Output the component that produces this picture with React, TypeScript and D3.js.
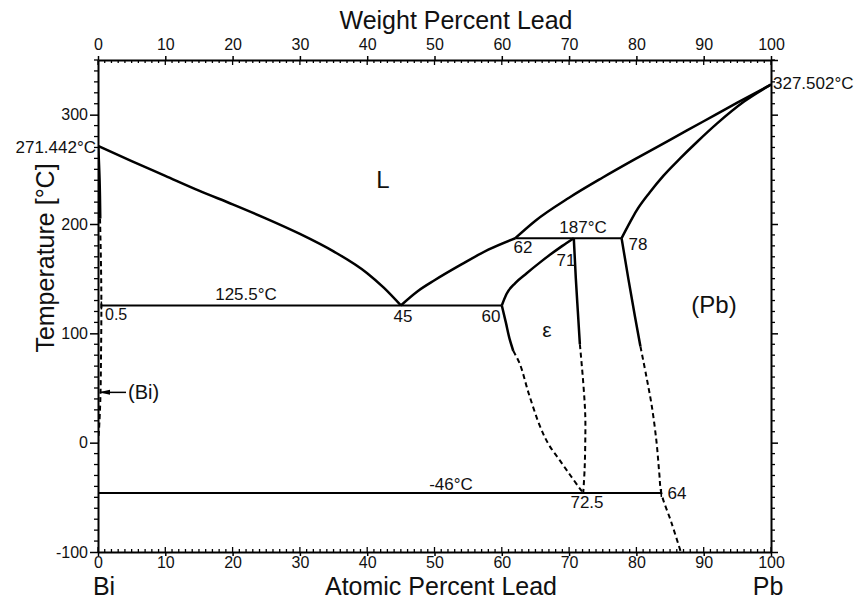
import React, { useRef, useEffect } from "react";
import * as d3 from "d3";

type Pt = [number, number];

// phase boundaries, [atomic % Pb, temperature °C]
const liquidusBi: Pt[] = [[0, 271.442], [5, 257.5], [10, 244], [15, 230.5], [20, 218], [25, 205], [30, 191], [35, 175], [40, 155], [42.5, 141.5], [45, 125.5]];
const liquidusEps: Pt[] = [[45, 125.5], [47.5, 138.5], [50, 148.5], [54, 163], [58, 176.5], [62, 187]];
const liquidusPb: Pt[] = [[62, 187], [65, 203], [70, 224], [75, 242.5], [80, 260], [85, 277], [90, 294], [95, 311], [100, 327.502]];
const solidusPb: Pt[] = [[77.8, 187], [79, 201], [80, 212], [82, 229], [84, 244], [86.5, 260], [89, 275], [92, 292], [96, 312], [100, 327.502]];
const epsLiquidus: Pt[] = [[60, 125.5], [60.7, 136], [62, 146], [63.7, 155], [65.5, 164], [67.2, 172], [69, 180], [70.7, 187]];
const epsLeftSolid: Pt[] = [[60, 125.5], [60.6, 110], [61.2, 94], [61.7, 84]];
const epsLeftDashed: Pt[] = [[61.7, 84], [62.7, 71.7], [64, 45], [65.7, 14.6], [67, -2], [68.6, -16], [70.2, -30], [71.6, -42], [72.1, -46]];
const epsRightSolid: Pt[] = [[70.7, 187], [71, 150], [71.3, 120], [71.6, 90]];
const epsRightDashed: Pt[] = [[71.6, 90], [72.1, 55], [72.4, 25], [72.4, 0], [72.3, -25], [72.1, -46]];
const pbSolvusSolid: Pt[] = [[77.8, 187], [78.8, 150], [79.8, 115], [80.6, 88]];
const pbSolvusDashed: Pt[] = [[80.6, 88], [81.5, 60], [82.3, 33], [83, 0], [83.4, -28], [83.7, -46], [85.2, -73], [86.6, -100]];
const biSolidus: Pt[] = [[0, 271.442], [0.2, 240], [0.3, 205]];
const biDashed: Pt[] = [[0.3, 205], [0.45, 160], [0.5, 125.5], [0.45, 80], [0.35, 40], [0.15, 12], [0, 0]];

// invariant lines: [from %, to %, temperature]
const isotherms: [number, number, number][] = [[0.5, 60, 125.5], [62, 77.8, 187], [0, 83.7, -46]];

const majorX = d3.range(0, 101, 10);
const majorY = [-100, 0, 100, 200, 300];

// labels: [text, x px, baseline px, size, anchor]
const labels: [string, number, number, number, string][] = [
  ["L", 383, 188, 24, "middle"],
  ["125.5°C", 246, 300, 17, "middle"],
  ["0.5", 105, 320, 16, "start"],
  ["45", 403, 322, 17, "middle"],
  ["60", 491, 322, 17, "middle"],
  ["ε", 547, 337, 21, "middle"],
  ["62", 523, 253, 17, "middle"],
  ["187°C", 583, 233, 17, "middle"],
  ["71", 566, 266, 17, "middle"],
  ["78", 638, 250, 17, "middle"],
  ["(Pb)", 714, 313, 24, "middle"],
  ["(Bi)", 128, 399, 20, "start"],
  ["-46°C", 451, 490, 17, "middle"],
  ["72.5", 587, 508, 17, "middle"],
  ["64", 677, 499, 17, "middle"],
  ["271.442°C", 96, 153, 17, "end"],
  ["327.502°C", 773, 89, 17, "start"],
];

const W = 860;
const H = 601;

const App: React.FC = () => {
  const svgRef = useRef<SVGSVGElement | null>(null);

  useEffect(() => {
    if (!svgRef.current) return;
    const svg = d3.select(svgRef.current);
    svg.selectAll("*").remove();

    const x = d3.scaleLinear().domain([0, 100]).range([98, 771]);
    const y = d3.scaleLinear().domain([-100, 350]).range([552, 60]);
    const line = d3.line<Pt>().x(d => x(d[0])).y(d => y(d[1])).curve(d3.curveMonotoneY);
    const smoothX = d3.line<Pt>().x(d => x(d[0])).y(d => y(d[1])).curve(d3.curveMonotoneX);
    const smooth = d3.line<Pt>().x(d => x(d[0])).y(d => y(d[1])).curve(d3.curveCatmullRom);

    svg.append("defs").append("clipPath").attr("id", "plot")
      .append("rect").attr("x", x(0)).attr("y", y(350)).attr("width", x(100) - x(0)).attr("height", y(-100) - y(350));

    const g = svg.append("g").attr("clip-path", "url(#plot)").attr("fill", "none").attr("stroke", "#000");

    // solid boundaries
    [liquidusBi, liquidusEps, liquidusPb, solidusPb, epsLiquidus].forEach(p => {
      g.append("path").attr("d", smoothX(p)).attr("stroke-width", 2.5);
    });
    [epsLeftSolid, epsRightSolid, pbSolvusSolid].forEach(p => {
      g.append("path").attr("d", line(p)).attr("stroke-width", 2.5);
    });
    g.append("path").attr("d", line(biSolidus)).attr("stroke-width", 3);

    // dashed (uncertain) boundaries
    [epsLeftDashed, epsRightDashed, pbSolvusDashed, biDashed].forEach(p => {
      g.append("path").attr("d", smooth(p)).attr("stroke-width", 2).attr("stroke-dasharray", "5,3.5");
    });

    // isotherms
    g.selectAll("line.iso").data(isotherms).join("line")
      .attr("x1", d => x(d[0])).attr("x2", d => x(d[1]))
      .attr("y1", d => y(d[2])).attr("y2", d => y(d[2]))
      .attr("stroke-width", 2);
    // end ticks on the 125.5 and -46 lines
    g.append("line").attr("x1", x(83.7)).attr("x2", x(83.7)).attr("y1", y(-46) - 4).attr("y2", y(-46) + 4).attr("stroke-width", 1.5);
    g.append("line").attr("x1", x(0.5)).attr("x2", x(0.5)).attr("y1", y(125.5) - 4).attr("y2", y(125.5) + 4).attr("stroke-width", 1.5);

    // (Bi) pointer
    const ay = y(46);
    svg.append("line").attr("x1", x(0) + 2).attr("x2", x(0) + 28).attr("y1", ay).attr("y2", ay)
      .attr("stroke", "#000").attr("stroke-width", 1.5);
    svg.append("path")
      .attr("d", `M${x(0) + 1},${ay} L${x(0) + 12},${ay - 2.5} L${x(0) + 12},${ay + 2.5} Z`)
      .attr("fill", "#000");

    // axes
    const font = "'Liberation Sans', Arial, sans-serif";
    const fmt = (d: d3.NumberValue) => String(d);
    const styleAxis = (a: d3.Selection<SVGGElement, unknown, null, undefined>, size: number) => {
      a.select(".domain").attr("stroke-width", 2);
      a.selectAll(".tick line").attr("stroke-width", 1.5);
      a.selectAll("text").attr("font-family", font).attr("font-size", size).attr("fill", "#111");
    };

    const top = svg.append("g").attr("transform", `translate(0,${y(350)})`)
      .call(d3.axisTop(x).tickValues(majorX).tickFormat(fmt).tickSize(4).tickSizeOuter(0).tickPadding(6));
    styleAxis(top, 16);
    const bottom = svg.append("g").attr("transform", `translate(0,${y(-100)})`)
      .call(d3.axisBottom(x).tickValues(majorX).tickFormat(fmt).tickSize(4).tickSizeOuter(0).tickPadding(1));
    styleAxis(bottom, 16);
    const left = svg.append("g").attr("transform", `translate(${x(0)},0)`)
      .call(d3.axisLeft(y).tickValues(majorY).tickFormat(fmt).tickSize(8).tickSizeOuter(0).tickPadding(2));
    styleAxis(left, 16);
    const right = svg.append("g").attr("transform", `translate(${x(100)},0)`)
      .call(d3.axisRight(y).tickValues(majorY.concat([350])).tickSize(7).tickSizeOuter(0).tickFormat(() => ""));
    styleAxis(right, 16);

    // minor ticks
    const minorX = d3.range(0, 101, 1);
    const minorY = d3.range(-100, 351, 10).filter(v => !majorY.includes(v));
    const ticks = svg.append("g").attr("stroke", "#000").attr("stroke-width", 1.3);
    ticks.selectAll("line.mt").data(minorX).join("line")
      .attr("x1", d => x(d)).attr("x2", d => x(d))
      .attr("y1", y(350)).attr("y2", d => y(350) + (d % 10 === 0 ? 5 : 3));
    ticks.selectAll("line.mb").data(minorX).join("line")
      .attr("x1", d => x(d)).attr("x2", d => x(d))
      .attr("y1", y(-100)).attr("y2", d => y(-100) - (d % 10 === 0 ? 5 : 3));
    ticks.selectAll("line.ml").data(minorY).join("line")
      .attr("x1", x(0) - 4).attr("x2", x(0))
      .attr("y1", d => y(d)).attr("y2", d => y(d));
    ticks.selectAll("line.mr").data(minorY).join("line")
      .attr("x1", x(100)).attr("x2", x(100) + 4)
      .attr("y1", d => y(d)).attr("y2", d => y(d));

    // titles
    const txt = svg.append("g").attr("font-family", font).attr("fill", "#111");
    txt.append("text").attr("x", 456).attr("y", 29).attr("text-anchor", "middle").attr("font-size", 25).text("Weight Percent Lead");
    txt.append("text").attr("x", 441).attr("y", 594.5).attr("text-anchor", "middle").attr("font-size", 25).text("Atomic Percent Lead");
    txt.append("text").attr("x", x(0) + 6).attr("y", 594.5).attr("text-anchor", "middle").attr("font-size", 25).text("Bi");
    txt.append("text").attr("x", x(100) - 3).attr("y", 594.5).attr("text-anchor", "middle").attr("font-size", 25).text("Pb");
    txt.append("text").attr("transform", "translate(54,258) rotate(-90)").attr("text-anchor", "middle").attr("font-size", 25).text("Temperature [°C]");

    txt.selectAll("text.lab").data(labels).join("text")
      .attr("x", d => d[1]).attr("y", d => d[2])
      .attr("font-size", d => d[3]).attr("text-anchor", d => d[4])
      .text(d => d[0]);
  }, []);

  return <svg ref={svgRef} width={W} height={H} viewBox={`0 0 ${W} ${H}`}
    style={{ position: "absolute", left: 0, top: 0, background: "#fff" }} />;
};

export default App;
